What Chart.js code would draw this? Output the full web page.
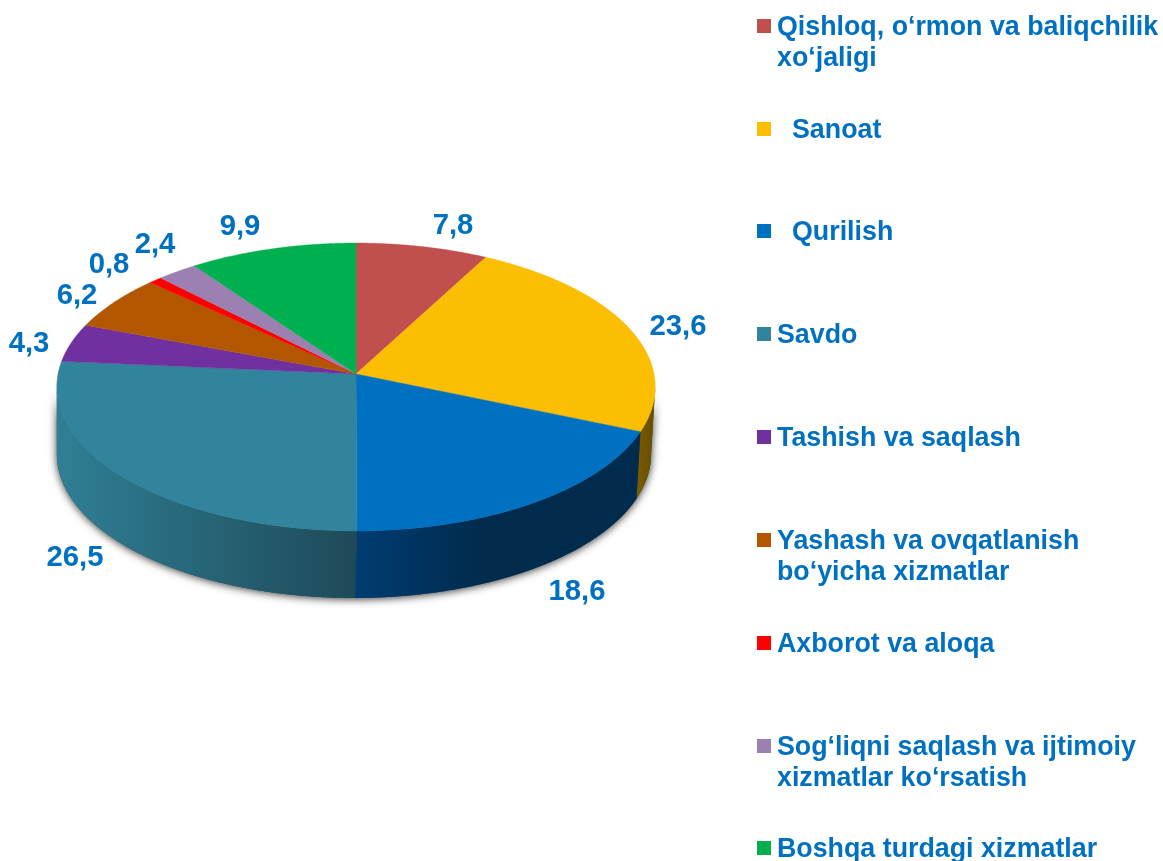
<!DOCTYPE html>
<html>
<head>
<meta charset="utf-8">
<style>
html,body{margin:0;padding:0;background:#fff;}
canvas{display:block;}
</style>
<script src="https://cdn.jsdelivr.net/npm/chart.js@4/dist/chart.umd.min.js"></script>
</head>
<body>
<canvas id="c" width="1163" height="861"></canvas>
<script>
const categories = [
  ["Qishloq, o‘rmon va baliqchilik","xo‘jaligi"],
  ["Sanoat"],
  ["Qurilish"],
  ["Savdo"],
  ["Tashish va saqlash"],
  ["Yashash va ovqatlanish","bo‘yicha xizmatlar"],
  ["Axborot va aloqa"],
  ["Sog‘liqni saqlash va ijtimoiy","xizmatlar ko‘rsatish"],
  ["Boshqa turdagi xizmatlar"]
];
const values = [7.8, 23.6, 18.6, 26.5, 4.3, 6.2, 0.8, 2.4, 9.9];
const valueLabels = ["7,8","23,6","18,6","26,5","4,3","6,2","0,8","2,4","9,9"];
const colors = ["#C0504D","#FCBE00","#0070C0","#31849B","#7030A0","#B25700","#FF0000","#9B80B1","#00B050"];

// Styling only
const wallShades = [null,["#7b5c00","#6a4f00"],["#003d72","#002b4d"],["#2f7f95","#1e4a58"],null,null,null,null,null];
const labelAnchors = [[453,226],[678,327],[577,592],[75,558],[29,344],[77,296],[109,265],[155,245],[240,227]];
const legendRows = [26,129,231,334,437,540,643,746,848];
const legendIndent = [0,15,15,0,0,0,0,0,0];
const BLUE = "#0070C0";
const FONT = '"Liberation Sans", Arial, sans-serif';
const persp = {k:-0.0903, t:142.8, depth:67, wallScale:0.993, wallShift:-2, frontFrom:95.2*Math.PI/180, frontTo:264.8*Math.PI/180};

function rim(arc, phi){
  const px = Math.sin(phi), py = -Math.cos(phi), d = 1 + persp.k*py;
  return [arc.x + arc.outerRadius*px/d, arc.y + persp.t*py/d];
}
function base(arc, phi){
  const p = rim(arc, phi);
  return [arc.x + persp.wallShift + persp.wallScale*(p[0]-arc.x), p[1] + persp.depth];
}
const STEP = Math.PI/720;
function trace(ctx, fn, arc, a, b, first){
  const n = Math.max(1, Math.ceil(Math.abs(b-a)/STEP));
  for(let i=0;i<=n;i++){
    const p = fn(arc, a+(b-a)*i/n);
    if(first && i===0) ctx.moveTo(p[0],p[1]); else ctx.lineTo(p[0],p[1]);
  }
}

const pie3d = {
  id:'pie3d',
  beforeDatasetDraw(chart, args){
    const ctx = chart.ctx, arcs = args.meta.data, a0 = arcs[0];
    // shadow under the body
    ctx.save();
    ctx.shadowColor = 'rgba(0,0,0,0.8)';
    ctx.shadowBlur = 8;
    ctx.shadowOffsetY = 1;
    ctx.fillStyle = '#1e4a58';
    ctx.beginPath();
    trace(ctx, base, a0, persp.frontFrom, persp.frontTo, true);
    trace(ctx, rim, a0, persp.frontTo, persp.frontFrom, false);
    ctx.closePath();
    ctx.fill();
    ctx.restore();
    // walls
    arcs.forEach((arc,i)=>{
      if(!wallShades[i]) return;
      const a = Math.max(arc.startAngle+Math.PI/2, persp.frontFrom);
      const b = Math.min(arc.endAngle+Math.PI/2, persp.frontTo);
      if(b<=a) return;
      const pa = base(arc,a), pb = base(arc,b);
      const lo = Math.min(pa[0],pb[0]), hi = Math.max(pa[0],pb[0]);
      const g = ctx.createLinearGradient(lo,0,hi,0);
      const s = wallShades[i];
      g.addColorStop(0,s[0]);
      if(i===2) g.addColorStop(0.45,s[1]);
      g.addColorStop(1,s[1]);
      ctx.beginPath();
      trace(ctx, rim, arc, a, b, true);
      trace(ctx, base, arc, b, a, false);
      ctx.closePath();
      ctx.fillStyle = g;
      ctx.fill();
    });
    // top faces
    arcs.forEach(arc=>{
      ctx.beginPath();
      ctx.moveTo(arc.x, arc.y);
      trace(ctx, rim, arc, arc.startAngle+Math.PI/2, arc.endAngle+Math.PI/2, false);
      ctx.closePath();
      ctx.fillStyle = arc.options.backgroundColor;
      ctx.strokeStyle = arc.options.backgroundColor;
      ctx.lineWidth = 0.4;
      ctx.fill();
      ctx.stroke();
    });
    return false;
  },
  afterDraw(chart){
    const ctx = chart.ctx;
    ctx.save();
    ctx.fillStyle = BLUE;
    // value labels
    ctx.font = 'bold 29.3px '+FONT;
    ctx.textAlign = 'center';
    ctx.textBaseline = 'middle';
    valueLabels.forEach((t,i)=>ctx.fillText(t, labelAnchors[i][0], labelAnchors[i][1]));
    // legend
    ctx.font = 'bold 26.8px '+FONT;
    ctx.textAlign = 'left';
    ctx.textBaseline = 'alphabetic';
    categories.forEach((lines,i)=>{
      const y = legendRows[i];
      ctx.fillStyle = colors[i];
      ctx.fillRect(757, y-7, 14, 14);
      ctx.fillStyle = BLUE;
      lines.forEach((t,j)=>ctx.fillText(t, 777+legendIndent[i], y+9+j*31));
    });
    ctx.restore();
  }
};

new Chart(document.getElementById('c'), {
  type:'pie',
  data:{
    labels: categories.map(l=>l.join(' ')),
    datasets:[{data:values, backgroundColor:colors, borderWidth:0}]
  },
  options:{
    responsive:false,
    animation:false,
    layout:{padding:{left:58,right:509,top:76,bottom:189}},
    plugins:{legend:{display:false},tooltip:{enabled:false}}
  },
  plugins:[pie3d]
});
</script>
</body>
</html>
